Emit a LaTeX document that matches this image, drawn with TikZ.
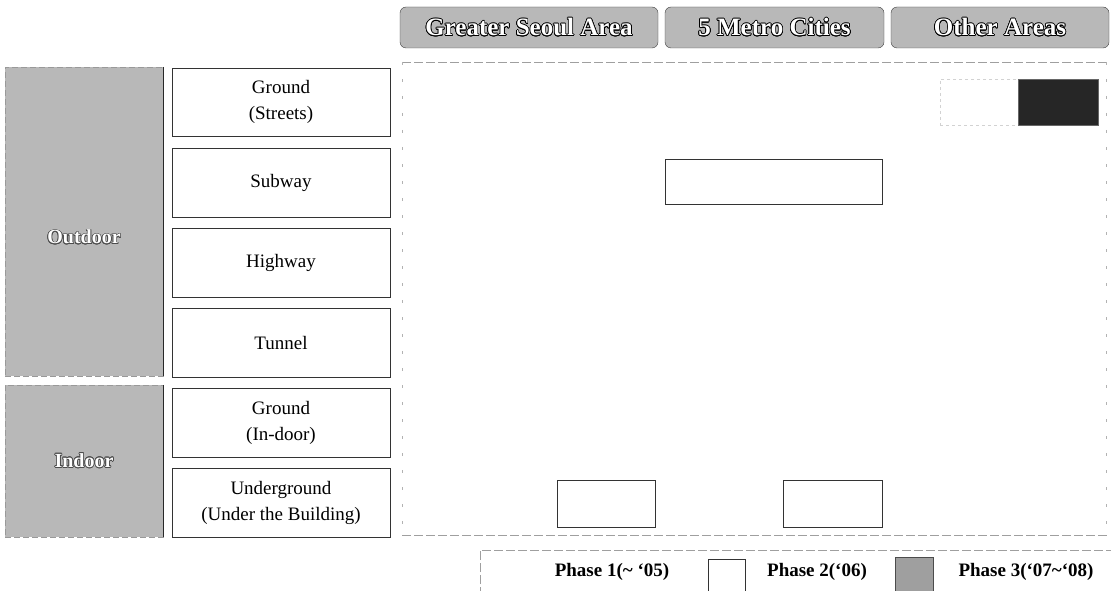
\documentclass[tikz,border=0pt]{standalone}
\usepackage{fontspec}
\setmainfont{Liberation Serif}
\usepackage{contour}
\contourlength{0.7pt}
\usepackage{tikz}
\usetikzlibrary{positioning}
\definecolor{Cement}{RGB}{184,184,184}
\definecolor{Slate}{RGB}{40,40,40}

\begin{document}
\begin{tikzpicture}[x=1pt,y=-1pt,
  areabox/.style={draw=black!75,fill=Cement,rounded corners=6pt,minimum width=#1,minimum height=41pt,inner sep=0pt,text=white,font=\fontsize{25}{30}\selectfont\bfseries},
  sidebox/.style={draw=gray!80,dash pattern=on 6pt off 3pt,fill=Cement,minimum width=158pt,minimum height=#1,inner sep=0pt},
  sidetext/.style={text=white,font=\fontsize{20}{24}\selectfont\bfseries},
  rowbox/.style={draw=black!80,line width=0.6pt,minimum width=218pt,minimum height=#1,inner sep=0pt,align=center,font=\fontsize{19}{26}\selectfont},
  cellbox/.style={draw=black!80,line width=0.6pt,fill=white,inner sep=0pt},
  framedash/.style={gray!75,dash pattern=on 9pt off 3pt,line width=0.5pt},
  frameside/.style={gray!60,dash pattern=on 3pt off 14pt,line width=0.5pt},
  keytext/.style={font=\fontsize{19}{22}\selectfont\bfseries}]
\useasboundingbox (0,0) rectangle (1111,591);
%
% column heads
\node[areabox=258pt] (seoul) at (529,27.5) {\contour{black}{Greater Seoul Area}};
\node[areabox=219pt] (metro) at (774.5,27.5) {\contour{black}{5 Metro Cities}};
\node[areabox=218pt] (other) at (1000,27.5) {\contour{black}{Other Areas}};
%
% frame of the table
\draw[framedash] (402,62) -- (1108,62);
\draw[framedash] (402,535) -- (1108,535);
\draw[frameside] (402,62) -- (402,535);
\draw[frameside] (1106,62) -- (1106,535);
%
% row groups
\node[sidebox=309pt,label={[sidetext,yshift=-16pt]center:\contour{black!70}{Outdoor}}] (outdoor) at (84,221.5) {};
\draw[Slate,line width=1pt] (outdoor.north east) -- (outdoor.south east);
\node[sidebox=152pt,label={[sidetext]center:\contour{black!70}{Indoor}}] (indoor) at (84,461) {};
\draw[Slate,line width=1pt] (indoor.north east) -- (indoor.south east);
%
% rows
\node[rowbox=68pt] (streets) at (281,102) {Ground\\(Streets)};
\node[rowbox=69pt] (subway) at (281,182.5) {Subway};
\node[rowbox=69pt] (highway) at (281,262.5) {Highway};
\node[rowbox=69pt] (tunnel) at (281,342.5) {Tunnel};
\node[rowbox=69pt] (indground) at (281,422.5) {Ground\\(In-door)};
\node[rowbox=69pt] (undergr) at (281,502.5) {Underground\\(Under the Building)};
%
% cells
\node[draw=gray!35,dashed,fill=white,minimum width=78pt,minimum height=46pt,inner sep=0pt] (streetsOtherA) at (979,102) {};
\node[draw=black!60,fill=black!85,minimum width=80pt,minimum height=46pt,inner sep=0pt] (streetsOtherB) at (1058,102) {};
\node[cellbox,minimum width=217pt,minimum height=45pt] (subwayMetro) at (773.5,181.5) {};
\node[cellbox,minimum width=98pt,minimum height=47pt] (undergrSeoul) at (606,503.5) {};
\node[cellbox,minimum width=99pt,minimum height=47pt] (undergrMetro) at (832.5,503.5) {};
%
% legend
\draw[framedash] (480,596) |- (1111,550);
\node[keytext] (phaseone) at (612,572) {Phase 1(\textasciitilde\ `05)};
\node[draw=black!80,fill=white,minimum width=37pt,minimum height=40pt,inner sep=0pt] (keytwo) at (726.5,579) {};
\node[keytext] (phasetwo) at (817,572) {Phase 2(`06)};
\node[draw=black!70,fill=gray!75,minimum width=38pt,minimum height=41pt,inner sep=0pt] (keythree) at (914,577.5) {};
\node[keytext] (phasethree) at (1026,572) {Phase 3(`07\textasciitilde`08)};
%
\end{tikzpicture}
\end{document}
